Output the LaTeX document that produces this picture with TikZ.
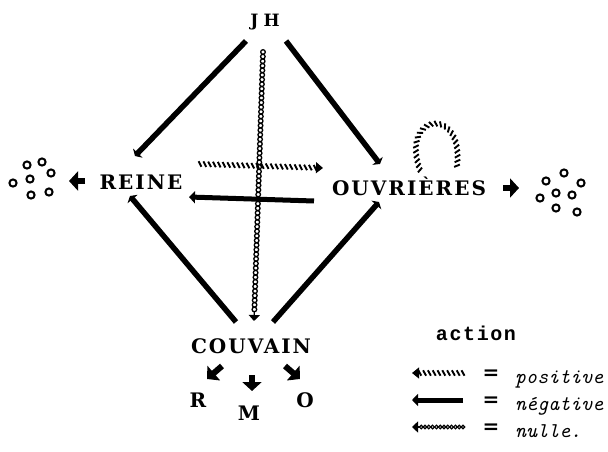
\documentclass[tikz,border=0pt]{standalone}
\usepackage{fontspec}
\usetikzlibrary{arrows.meta,decorations.pathmorphing,decorations.markings,calc}
\newfontfamily\labfont[LetterSpace=10]{DejaVu Serif}
\newfontfamily\jhfont[LetterSpace=30]{DejaVu Serif}
\newfontfamily\actfont[LetterSpace=8]{Liberation Mono}
\begin{document}
\begin{tikzpicture}[x=1pt,y=-1pt,
  lbl/.style={font=\labfont\bfseries\fontsize{20}{20}\selectfont, inner sep=0pt},
  small/.style={font=\jhfont\bfseries\fontsize{17}{17}\selectfont, inner sep=0pt},
  leg/.style={font=\ttfamily\itshape\fontsize{21}{21}\selectfont, inner sep=0pt, anchor=base west},
  eqs/.style={font=\labfont\bfseries\fontsize{20}{20}\selectfont, inner sep=0pt},
  mainarr/.style={line width=5.5pt, -{Triangle[width=13pt,length=4pt]}},
  negarr/.style={line width=5pt, -{Triangle[width=12pt,length=6pt]}},
  headarr/.style={line width=4pt, -{Triangle[width=14pt,length=8pt]}},
  blobarr/.style={line width=6pt, -{Triangle[width=19pt,length=9pt]}},
  posarr/.style={decorate, decoration={markings,
     mark=between positions 0 and 0.94 step 4.8pt with {\draw[line width=1.9pt] (-1.5pt,2.7pt) -- (1.5pt,-2.7pt);},
     mark=at position 1 with {\arrow[line width=1pt]{Triangle[width=11pt,length=7pt]}}}},
  nularr/.style={decorate, decoration={markings,
     mark=between positions 0 and 1 step 4.6pt with {\draw[line width=1.3pt] (0,0) circle[radius=2.3pt];}}},
  nultip/.style={line width=1.3pt, -{Triangle[width=11pt,length=6pt]}},
  ring/.style={line width=2pt}
]
\useasboundingbox (0,0) rectangle (608,452);

% labels
\node[small] (jh) at (265,22) {JH};
\node[lbl] (reine) at (141,182) {REINE};
\node[lbl] (ouv) at (409,186) {OUVRIÈRES};
\node[lbl] (couv) at (251,346) {COUVAIN};
\node[lbl] (r) at (198,400) {R};
\node[lbl] (m) at (249,413) {M};
\node[lbl] (o) at (305,400) {O};

% coordinates of connector ends
\coordinate (jhL) at (246,41);
\coordinate (reT) at (135,156);
\coordinate (jhR) at (286,41);
\coordinate (ouT) at (380,164);
\coordinate (cvL) at (236,322);
\coordinate (reB) at (130,196);
\coordinate (cvR) at (273,322);
\coordinate (ouB) at (379,202);
\coordinate (nulT) at (263,52);
\coordinate (nulB) at (254,321);
\coordinate (posS) at (200,164);
\coordinate (posE) at (323,168);
\coordinate (negS) at (314,201);
\coordinate (negE) at (189,197);

% main arrows
\draw[mainarr] (jhL) -- (reT);
\draw[mainarr] (jhR) -- (ouT);
\draw[mainarr] (cvL) -- (reB);
\draw[mainarr] (cvR) -- (ouB);

% nulle vertical
\path[nularr] (nulT) -- ($(nulB)!8pt!(nulT)$);
\draw[nultip] ($(nulB)!9pt!(nulT)$) -- (nulB);

% positive & negative horizontals
\path[posarr] (posS) -- (posE);
\draw[negarr] (negS) -- (negE);

% self loop on ouvrieres
\coordinate (lpS) at (420,170);
\coordinate (lpE) at (455,177);
\path[posarr] (lpS) .. controls (398,110) and (472,104) .. (lpE);

% side arrows and rings
\coordinate (laS) at (85,181);
\coordinate (laE) at (69,181);
\draw[blobarr] (laS) -- (laE);
\coordinate (raS) at (503,188);
\coordinate (raE) at (519,188);
\draw[blobarr] (raS) -- (raE);
\foreach \p in {(27,165),(42,162),(51,173),(30,179),(13,183),(31,195),(49,192)}
  \draw[ring] \p circle[radius=3.6pt];
\foreach \p in {(546,181),(564,173),(581,183),(540,198),(556,193),(572,195),(556,208),(577,212)}
  \draw[ring] \p circle[radius=3.6pt];

% couvain small arrows
\coordinate (a1S) at (222,366);
\coordinate (a1E) at (207,379);
\draw[blobarr] (a1S) -- (a1E);
\coordinate (a2S) at (252,375);
\coordinate (a2E) at (252,391);
\draw[blobarr] (a2S) -- (a2E);
\coordinate (a3S) at (285,366);
\coordinate (a3E) at (300,379);
\draw[blobarr] (a3S) -- (a3E);

% legend
\node[font=\actfont\bfseries\fontsize{20}{20}\selectfont, inner sep=0pt] (act) at (476,333) {action};
\coordinate (l1S) at (463,373); \coordinate (l1E) at (412,373);
\coordinate (l2S) at (463,400); \coordinate (l2E) at (412,400);
\coordinate (l3S) at (463,427); \coordinate (l3E) at (412,427);
\path[posarr] (l1S) -- (l1E);
\draw[negarr] (l2S) -- (l2E);
\path[decorate, decoration={markings,
     mark=between positions 0 and 1 step 3.8pt with {\draw[line width=1.2pt] (0,0) circle[radius=1.8pt];}}] (l3S) -- ($(l3E)!7pt!(l3S)$);
\draw[nultip] ($(l3E)!8pt!(l3S)$) -- (l3E);
\node[eqs] (e1) at (491,375) {=};
\node[eqs] (e2) at (491,402) {=};
\node[eqs] (e3) at (491,429) {=};
\node[leg] (t1) at (515,383) {positive};
\node[leg] (t2) at (515,410) {négative};
\node[leg] (t3) at (515,437) {nulle.};
\end{tikzpicture}
\end{document}
